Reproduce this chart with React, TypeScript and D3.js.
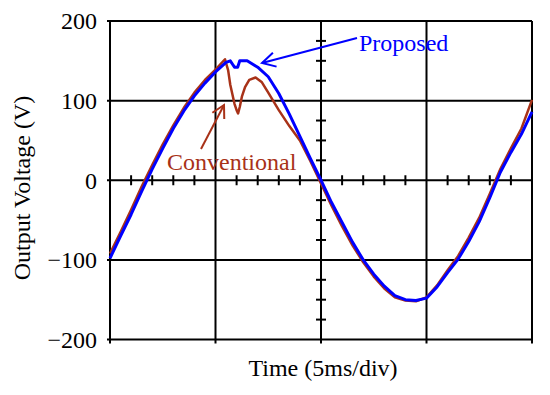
import React from "react";
import * as d3 from "d3";

// time in ms, voltage in V
const proposedTime = [0, 0.5, 1, 1.5, 2, 2.5, 3, 3.5, 4, 4.5, 5, 5.5, 5.7, 5.8, 5.9, 6.05, 6.15, 6.5, 7, 7.5, 8, 8.5, 9, 9.5, 10, 10.5, 11, 11.5, 12, 12.5, 13, 13.5, 14, 14.5, 15, 15.5, 16, 16.5, 17, 17.5, 18, 18.5, 19, 19.5, 20];
const proposedVolts = [-98, -70, -43, -14, 14, 40, 65, 87, 106, 122, 136, 148, 150, 146, 142, 142, 150, 150, 142, 130, 109, 83, 55, 27, 0, -28, -53, -78, -100, -118, -133, -145, -150, -151, -148, -134, -116, -99, -77, -52, -22, 10, 35, 58, 86];

const conventionalTime = [0, 0.5, 1, 1.5, 2, 2.5, 3, 3.5, 4, 4.5, 5, 5.45, 5.6, 5.7, 5.8, 5.9, 6, 6.07, 6.15, 6.25, 6.4, 6.6, 6.9, 7.2, 7.5, 8, 8.5, 9, 9.5, 10, 10.5, 11, 11.5, 12, 12.5, 13, 13.5, 14, 14.5, 15, 15.5, 16, 16.5, 17, 17.5, 18, 18.5, 19, 19.5, 20];
const conventionalVolts = [-92, -65, -37, -8, 19, 45, 69, 91, 110, 126, 139, 152, 138, 120, 108, 96, 88, 84, 92, 105, 117, 126, 129, 123, 110, 88, 68, 50, 24, -4, -32, -58, -82, -103, -121, -136, -147, -151, -152, -147, -132, -113, -95, -72, -47, -17, 14, 40, 65, 101];

const voltTicks = [200, 100, 0, -100, -200];
const divTicks = [0, 5, 10, 15, 20];
const minorVolt = d3.range(-175, 200, 25).filter((v) => v % 100 !== 0);
const minorTime = d3.range(1, 20, 1).filter((t) => t % 5 !== 0);

const blue = "#0000ff";
const red = "#a83218";
const font = "'Liberation Serif', 'Times New Roman', serif";

function arrowHead(tip: [number, number], from: [number, number], len: number) {
  let a = Math.atan2(from[1] - tip[1], from[0] - tip[0]);
  let spread = 0.5;
  let p1 = [tip[0] + len * Math.cos(a + spread), tip[1] + len * Math.sin(a + spread)];
  let p2 = [tip[0] + len * Math.cos(a - spread), tip[1] + len * Math.sin(a - spread)];
  return `M${p1[0]},${p1[1]}L${tip[0]},${tip[1]}L${p2[0]},${p2[1]}`;
}

export default function App() {
  let x = d3.scaleLinear().domain([0, 20]).range([110, 532]);
  let y = d3.scaleLinear().domain([-200, 200]).range([339.5, 21]);
  let line = d3.line<number>().x((d, i) => x(d)).y((d, i) => 0);

  let proposedPath = d3.line<[number, number]>().x((d) => x(d[0])).y((d) => y(d[1]))(
    proposedTime.map((t, i) => [t, proposedVolts[i]])
  );
  let conventionalPath = d3.line<[number, number]>().x((d) => x(d[0])).y((d) => y(d[1]))(
    conventionalTime.map((t, i) => [t, conventionalVolts[i]])
  );

  // arrows (annotation layout)
  let propFrom: [number, number] = [357, 38];
  let propTip: [number, number] = [262, 63];
  let convFrom: [number, number] = [201, 149];
  let convTip: [number, number] = [224, 105];

  return (
    <svg width={550} height={395} style={{ position: "absolute", left: 0, top: 0, background: "#fff" }}>
      {/* grid */}
      {divTicks.map((t) => (
        <line key={"gx" + t} x1={x(t)} x2={x(t)} y1={y(200)} y2={y(-200) + 4} stroke="#000" strokeWidth={2} />
      ))}
      {voltTicks.map((v) => (
        <line key={"gy" + v} x1={x(0) - 3} x2={x(20)} y1={y(v)} y2={y(v)} stroke="#000" strokeWidth={2} />
      ))}
      {minorVolt.map((v) => (
        <line key={"mv" + v} x1={x(10) - 5} x2={x(10) + 5} y1={y(v)} y2={y(v)} stroke="#000" strokeWidth={2} />
      ))}
      {minorTime.map((t) => (
        <line key={"mt" + t} x1={x(t)} x2={x(t)} y1={y(0) - 5} y2={y(0) + 5} stroke="#000" strokeWidth={2} />
      ))}

      {/* tick labels */}
      {voltTicks.map((v) => (
        <text key={"tl" + v} x={97} y={y(v)} dy="0.35em" textAnchor="end" fontFamily={font} fontSize={24} fill="#000">
          {v < 0 ? "\u2212" + Math.abs(v) : v}
        </text>
      ))}

      {/* traces */}
      <path d={conventionalPath || ""} fill="none" stroke={red} strokeWidth={2.5} strokeLinejoin="round" />
      <path d={proposedPath || ""} fill="none" stroke={blue} strokeWidth={3} strokeLinejoin="round" />

      {/* annotations */}
      <line x1={propFrom[0]} y1={propFrom[1]} x2={propTip[0]} y2={propTip[1]} stroke={blue} strokeWidth={2} />
      <path d={arrowHead(propTip, propFrom, 15)} fill="none" stroke={blue} strokeWidth={2} />
      <text x={359} y={51} fontFamily={font} fontSize={24} fill={blue}>Proposed</text>

      <line x1={convFrom[0]} y1={convFrom[1]} x2={convTip[0]} y2={convTip[1]} stroke={red} strokeWidth={2} />
      <path d={arrowHead(convTip, convFrom, 14)} fill="none" stroke={red} strokeWidth={2} />
      <text x={167} y={170} fontFamily={font} fontSize={24} fill={red}>Conventional</text>

      {/* axis titles */}
      <text x={323} y={376} textAnchor="middle" fontFamily={font} fontSize={24} fill="#000">Time (5ms/div)</text>
      <text transform="translate(30,188) rotate(-90)" textAnchor="middle" fontFamily={font} fontSize={24} fill="#000">
        Output Voltage (V)
      </text>
    </svg>
  );
}
